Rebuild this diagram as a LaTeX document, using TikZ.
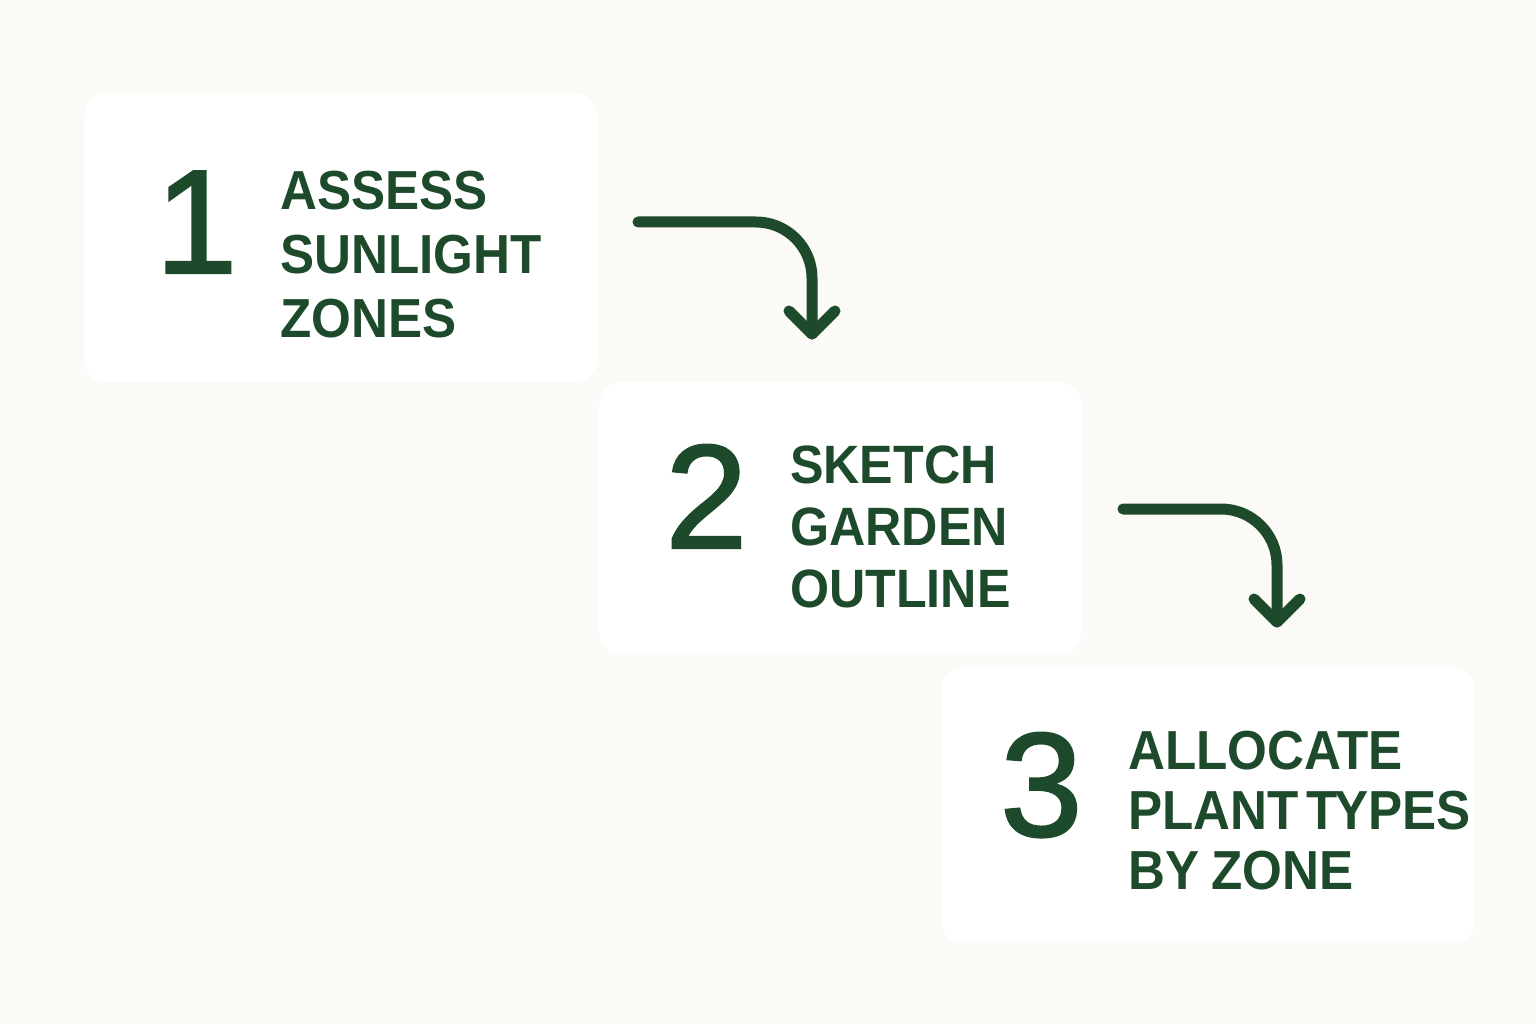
\documentclass[tikz,border=0pt]{standalone}
\usepackage{fontspec}
\setmainfont{Liberation Sans}
\newfontfamily\labelfont[FakeStretch=0.93]{Liberation Sans Bold}
\newfontfamily\numfont[FakeBold=1.5]{Liberation Sans}
\definecolor{ink}{HTML}{1E4A2C}
\definecolor{bg}{HTML}{FBFAF7}
\tikzset{
  card/.style={fill=white, draw=none, rounded corners=22pt, inner sep=0pt, anchor=north west},
  flow/.style={draw=ink, line width=11pt, line cap=round, line join=round, rounded corners=56pt},
  tip/.style={draw=ink, line width=11pt, line cap=round, line join=round},
  lbl/.style={text=ink, align=left, inner sep=0pt, anchor=base west},
  num/.style={text=ink, inner sep=0pt, anchor=base west, font=\numfont\fontsize{148}{148}\selectfont},
}
\begin{document}
\begin{tikzpicture}[x=1pt,y=-1pt]
\fill[bg] (0,0) rectangle (1536,1024);
\useasboundingbox (0,0) rectangle (1536,1024);
% cards
\node[card, minimum width=513pt, minimum height=289pt] (b1) at (84,93) {};
\node[card, minimum width=482pt, minimum height=273pt] (b2) at (599,382) {};
\node[card, minimum width=534pt, minimum height=276pt] (b3) at (941,667) {};
% numbers
\node[num] (n1) at (155,273) {1};
\node[num] (n2) at (665,548) {2};
\node[num] (n3) at (1000,836) {3};
% labels (anchored at the baseline of the last line)
\node[lbl, font={\labelfont\fontsize{55}{64}\selectfont\spaceskip=0.22em}] (t1) at (280,337) {ASSESS\\SUNLIGHT\\ZONES};
\node[lbl, font={\labelfont\fontsize{54}{62}\selectfont\spaceskip=0.22em}] (t2) at (790,607) {SKETCH\\GARDEN\\OUTLINE};
\node[lbl, font={\labelfont\fontsize{55}{60}\selectfont\spaceskip=0.22em}] (t3) at (1128,889) {ALLOCATE\\PLANT\kern-4pt{} T\kern-4pt YPES\\BY ZONE};
% arrows
\coordinate (a1s) at (638,222);
\coordinate (a1e) at (812,334);
\draw[flow] (a1s) -| (a1e);
\draw[tip] ([shift={(-23,-23)}]a1e) -- (a1e) -- ([shift={(23,-23)}]a1e);
\coordinate (a2s) at (1123,509);
\coordinate (a2e) at (1277,622);
\draw[flow] (a2s) -| (a2e);
\draw[tip] ([shift={(-23,-23)}]a2e) -- (a2e) -- ([shift={(23,-23)}]a2e);
\end{tikzpicture}
\end{document}
